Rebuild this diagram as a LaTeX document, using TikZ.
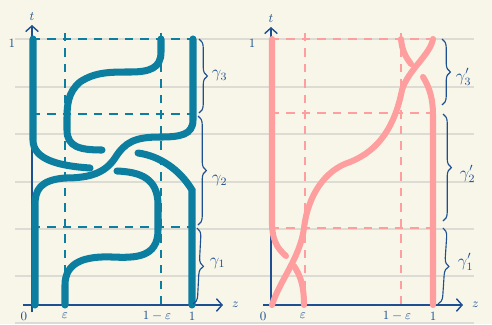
\documentclass[tikz,border=0pt]{standalone}
\usepackage{amsmath}
\usetikzlibrary{arrows.meta, decorations.pathreplacing, positioning}
\definecolor{paper}{HTML}{F8F6E9}
\definecolor{ruleg}{HTML}{DCDCD4}
\definecolor{inkblue}{HTML}{1D4F91}
\definecolor{tealstr}{HTML}{0C7FA1}
\definecolor{pinkstr}{HTML}{FF9E9E}
\begin{document}
\begin{tikzpicture}[x=0.025cm, y=-0.025cm,
    ruled/.style={ruleg, line width=0.9pt},
    axisline/.style={inkblue, line width=1pt, -{Straight Barb[length=4pt, width=9pt]}},
    guideL/.style={tealstr, line width=0.8pt, dash pattern=on 6pt off 5pt},
    guideR/.style={pinkstr, line width=0.8pt, dash pattern=on 6pt off 5pt},
    strandL/.style={tealstr, line width=5pt, line cap=round},
    strandR/.style={pinkstr, line width=4.3pt, line cap=round},
    piece/.style={inkblue, line width=0.8pt, decorate, decoration={brace, amplitude=6pt}},
    lab/.style={inkblue, font=\small},
    seg/.style={inkblue, font=\large, anchor=west}]

    % --- Hoja ---
    \fill[paper] (0,0) rectangle (492,324);
    \useasboundingbox (0,0) rectangle (492,324);
    \foreach \y in {39,87,134,182,229,276,323}
        \draw[ruled] (15,\y) -- (474,\y);

    % --- Panel izquierdo ---
    \coordinate (oL) at (32,305);
    \coordinate (bL) at (32,312);
    \coordinate (tL) at (32,25);
    \coordinate (aL) at (23,305);
    \coordinate (zL) at (223,305);

    \draw[guideL] (65,33) -- (65,305);
    \draw[guideL] (161,33) -- (161,305);
    \draw[guideL] (32,39) -- (193,39);
    \draw[guideL] (32,114) -- (193,114);
    \draw[guideL] (32,227) -- (192,227);

    \draw[axisline] (bL) -- (tL);
    \draw[axisline] (aL) -- (zL);

    % hebras
    \draw[strandL] (33,39) -- (33,140) .. controls (33,160) and (60,166) .. (90,168);
    \draw[strandL] (117,171) .. controls (140,172) and (158,178) .. (158,205) -- (158,230)
        .. controls (158,258) and (135,258) .. (112,257)
        .. controls (85,256) and (65,262) .. (65,285) -- (65,305);
    \draw[strandL] (161,39) -- (161,52) .. controls (161,68) and (150,72) .. (130,72)
        .. controls (110,72) and (95,72) .. (80,82)
        .. controls (68,92) and (67,105) .. (67,118) -- (67,130)
        .. controls (67,147) and (80,150) .. (102,150);
    \draw[strandL] (138,153) .. controls (160,156) and (180,170) .. (192,190) -- (192,305);
    \draw[strandL] (193,39) -- (193,120) .. controls (193,135) and (180,137) .. (160,137)
        .. controls (135,137) and (125,142) .. (115,158)
        .. controls (105,173) and (90,178) .. (65,178)
        .. controls (40,180) and (35,190) .. (35,205) -- (35,305);

    \node[lab, above=0pt of tL] (tlabL) {$t$};
    \node[lab, right=3pt of zL] (zlabL) {$z$};
    \node[lab] (unoL) at (12,43) {$1$};
    \node[lab] (c0L) at (24,316) {$0$};
    \node[lab] (epsL) at (65,316) {$\varepsilon$};
    \node[lab] (mepsL) at (157,316) {$1-\varepsilon$};
    \node[lab] (c1L) at (192,316) {$1$};

    \draw[piece] (199,39) -- (199,113);
    \draw[piece] (198,116) -- (198,225);
    \draw[piece] (197,228) -- (193,304);
    \node[seg] (g3) at (207,76) {$\gamma_3$};
    \node[seg] (g2) at (207,181) {$\gamma_2$};
    \node[seg] (g1) at (205,263) {$\gamma_1$};

    % --- Panel derecho ---
    \coordinate (oR) at (271,305);
    \coordinate (tR) at (271,27);
    \coordinate (aR) at (263,305);
    \coordinate (zR) at (463,305);

    \draw[guideR] (305,33) -- (305,305);
    \draw[guideR] (401,33) -- (401,305);
    \draw[guideR] (271,39) -- (433,39);
    \draw[guideR] (271,113) -- (433,113);
    \draw[guideR] (271,228) -- (433,228);

    \draw[axisline] (oR) -- (tR);
    \draw[axisline] (aR) -- (zR);

    % hebras
    \draw[strandR] (272,39) -- (272,225) .. controls (273,245) and (280,250) .. (286,256);
    \draw[strandR] (294,266) .. controls (300,275) and (304,285) .. (304,305);
    \draw[strandR] (272,305) .. controls (280,280) and (300,258) .. (304,228)
        .. controls (308,195) and (325,170) .. (350,162)
        .. controls (380,150) and (395,125) .. (402,90)
        .. controls (408,70) and (430,55) .. (433,39);
    \draw[strandR] (401,39) .. controls (402,50) and (405,56) .. (411,64);
    \draw[strandR] (423,77) .. controls (430,88) and (433,100) .. (433,115) -- (433,305);

    \node[lab, above=0pt of tR] (tlabR) {$t$};
    \node[lab, right=3pt of zR] (zlabR) {$z$};
    \node[lab] (unoR) at (252,43) {$1$};
    \node[lab] (c0R) at (263,316) {$0$};
    \node[lab] (epsR) at (303,316) {$\varepsilon$};
    \node[lab] (mepsR) at (397,316) {$1-\varepsilon$};
    \node[lab] (c1R) at (433,316) {$1$};

    \draw[piece] (442,39) -- (442,105);
    \draw[piece] (443,114) -- (443,221);
    \draw[piece] (443,228) -- (438,304);
    \node[seg] (g3p) at (451,77) {$\gamma_3'$};
    \node[seg] (g2p) at (455,174) {$\gamma_2'$};
    \node[seg] (g1p) at (453,262) {$\gamma_1'$};
\end{tikzpicture}
\end{document}
